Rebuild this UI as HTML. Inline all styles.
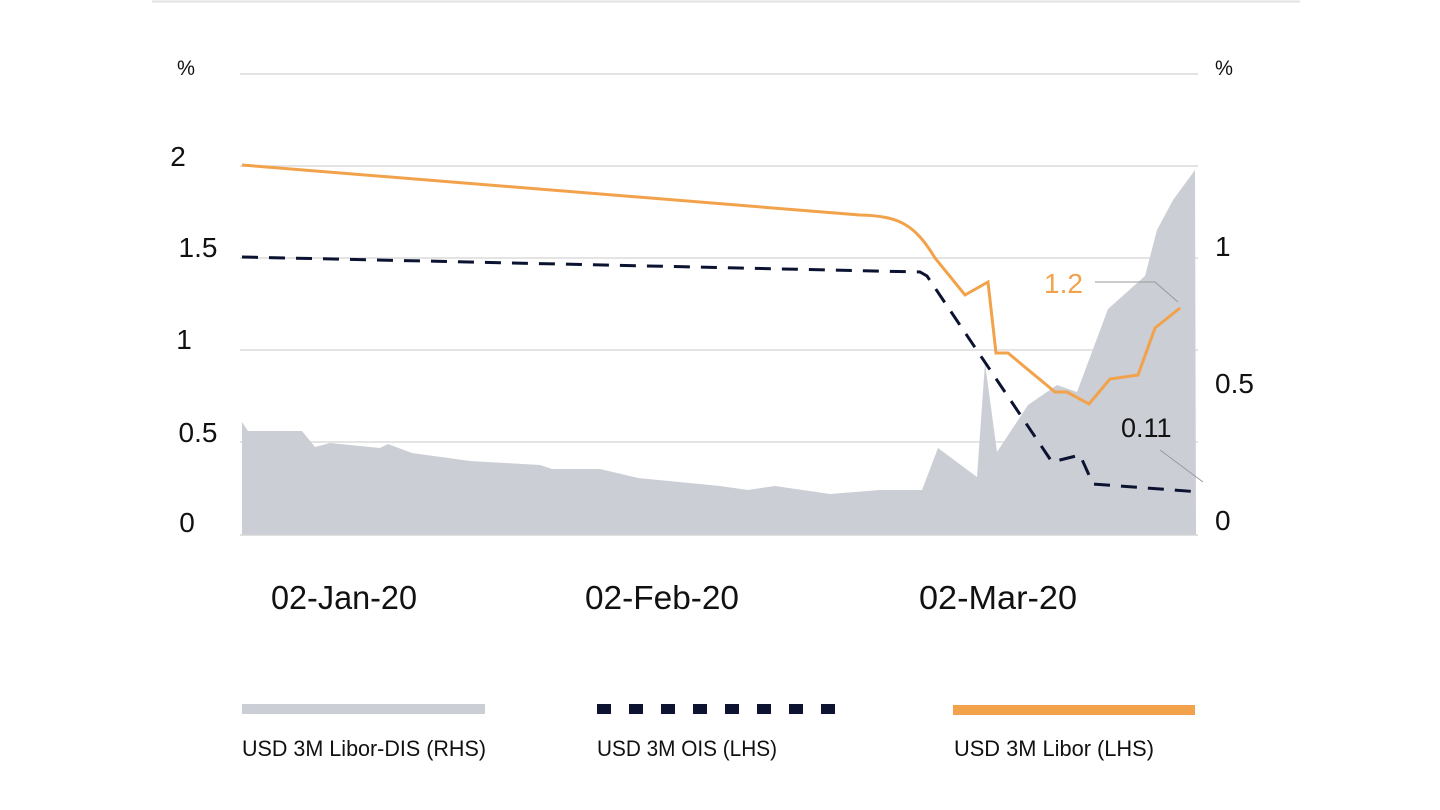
<!DOCTYPE html>
<html><head><meta charset="utf-8"><style>
html,body{margin:0;padding:0;background:#fff;}
svg{display:block;}
text{font-family:"Liberation Sans",sans-serif;}
</style></head><body>
<svg width="1440" height="810" viewBox="0 0 1440 810" xmlns="http://www.w3.org/2000/svg">
<line x1="152" y1="1.5" x2="1300" y2="1.5" stroke="#e2e2e2" stroke-width="2"/>
<g stroke="#dcdcdc" stroke-width="1.5">
<line x1="240" y1="74" x2="1198" y2="74"/>
<line x1="240" y1="166" x2="1198" y2="166"/>
<line x1="240" y1="258" x2="1198" y2="258"/>
<line x1="240" y1="350" x2="1198" y2="350"/>
<line x1="240" y1="442" x2="1198" y2="442"/>
</g>
<polygon fill="#cbced5" points="242,535 242,422 248,431 302,431 315,447 330,443 380,448 388,444 412,453 470,461 540,465 552,469 600,469 638,478 720,486 748,490 775,486 830,494 880,490 922,490 938,448 977,477 985,363 997,452 1028,405 1057,385 1077,392 1108,309 1145,276 1157,230 1173,200 1195,170 1196,535"/>
<line x1="240" y1="535" x2="1198" y2="535" stroke="#d6d6d6" stroke-width="1.5"/>
<g stroke="#999" stroke-width="1" fill="none">
<polyline points="1095,282 1155,282 1178,302"/>
<polyline points="1160,450 1203,482"/>
</g>
<polyline fill="none" stroke="#0b1330" stroke-width="3" stroke-dasharray="16,11" points="242,257 920,272 927,276 1052,462 1080,455 1093,484 1200,492"/>
<path fill="none" stroke="#f2a24a" stroke-width="3" d="M242,165 L860,215 C900,216 915,225 935,258 L965,295 L988,282 L996,353 L1008,353 L1055,392 L1067,392 L1089,404 L1110,379 L1138,375 L1155,328 L1180,308"/>
<g font-size="28" fill="#111">
<text x="178" y="166" text-anchor="middle">2</text>
<text x="198" y="257" text-anchor="middle">1.5</text>
<text x="184" y="349" text-anchor="middle">1</text>
<text x="198" y="442" text-anchor="middle">0.5</text>
<text x="187" y="532" text-anchor="middle">0</text>
<text x="1215" y="256">1</text>
<text x="1215" y="393">0.5</text>
<text x="1215" y="530">0</text>
<text x="1121" y="437" font-size="27">0.11</text>
</g>
<text x="1044" y="293" font-size="28" fill="#f2a24a">1.2</text>
<text x="177" y="75" font-size="21" fill="#111" textLength="18" lengthAdjust="spacingAndGlyphs">%</text>
<text x="1215" y="75" font-size="21" fill="#111" textLength="18" lengthAdjust="spacingAndGlyphs">%</text>
<g font-size="33" fill="#111" text-anchor="middle">
<text x="344" y="609" textLength="146" lengthAdjust="spacingAndGlyphs">02-Jan-20</text>
<text x="662" y="609" textLength="154" lengthAdjust="spacingAndGlyphs">02-Feb-20</text>
<text x="998" y="609" textLength="158" lengthAdjust="spacingAndGlyphs">02-Mar-20</text>
</g>
<rect x="242" y="704" width="243" height="10" fill="#cbced5"/>
<g fill="#0b1330">
<rect x="597" y="704" width="14" height="10"/><rect x="629" y="704" width="14" height="10"/><rect x="661" y="704" width="14" height="10"/><rect x="693" y="704" width="14" height="10"/><rect x="725" y="704" width="14" height="10"/><rect x="757" y="704" width="14" height="10"/><rect x="789" y="704" width="14" height="10"/><rect x="821" y="704" width="14" height="10"/>
</g>
<rect x="953" y="705" width="242" height="10" fill="#f2a24a"/>
<g font-size="22" fill="#111">
<text x="242" y="756" textLength="244" lengthAdjust="spacingAndGlyphs">USD 3M Libor-DIS (RHS)</text>
<text x="597" y="756" textLength="180" lengthAdjust="spacingAndGlyphs">USD 3M OIS (LHS)</text>
<text x="954" y="756" textLength="200" lengthAdjust="spacingAndGlyphs">USD 3M Libor (LHS)</text>
</g>
</svg>
</body></html>
